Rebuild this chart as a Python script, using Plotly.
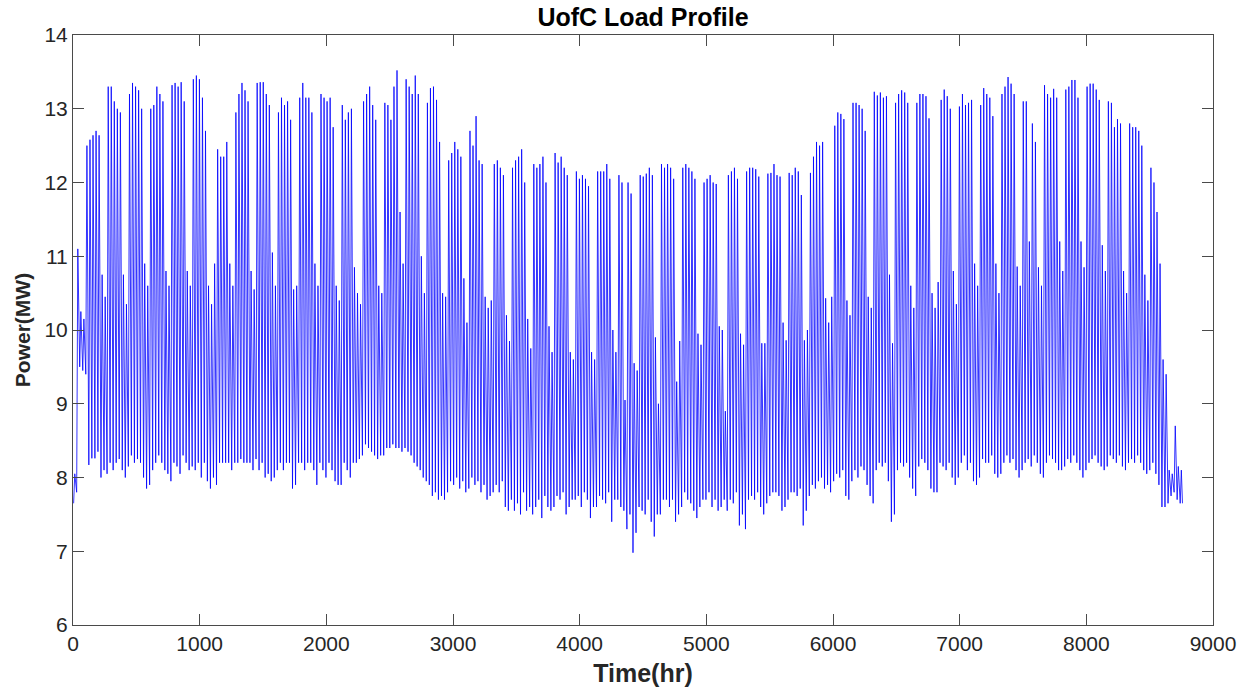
import plotly.graph_objects as go

# Hourly campus load summarised per day: overnight minimum and daytime peak (MW).
# Days 0-3 are the New Year break, then one row per Monday-Sunday week, then the last four days.
night_min_mw = [
    7.65, 7.8, 9.5, 9.45,
    9.4, 8.17, 8.26, 8.26, 8.35, 8.0, 8.1,
    8.05, 8.2, 8.1, 8.2, 8.25, 8.1, 8.0,
    8.15, 8.3, 8.2, 8.25, 8.2, 8.0, 7.85,
    7.9, 8.1, 8.2, 8.3, 8.2, 8.1, 8.05,
    7.95, 8.2, 8.15, 8.05, 8.3, 8.2, 8.1,
    8.15, 8.1, 8.2, 8.0, 8.2, 7.95, 7.85,
    8.0, 7.9, 8.2, 8.2, 8.2, 8.2, 8.1,
    8.2, 8.2, 8.25, 8.2, 8.2, 8.2, 8.1,
    8.25, 8.1, 8.2, 8.0, 8.05, 7.95, 8.0,
    8.1, 8.2, 8.1, 8.2, 8.2, 7.85, 7.9,
    8.2, 8.2, 8.1, 8.2, 8.2, 8.1, 7.9,
    8.2, 8.1, 8.0, 8.2, 8.1, 7.95, 7.9,
    7.9, 8.2, 8.1, 8.0, 8.2, 8.2, 8.25,
    8.3, 8.45, 8.4, 8.35, 8.3, 8.25, 8.3,
    8.3, 8.4, 8.4, 8.45, 8.4, 8.4, 8.35,
    8.4, 8.35, 8.3, 8.2, 8.15, 8.1, 8.0,
    7.95, 7.9, 7.75, 7.8, 7.7, 7.75, 7.7,
    7.8, 7.95, 7.9, 8.0, 7.85, 7.95, 7.8,
    7.85, 8.0, 7.9, 7.95, 7.8, 7.9, 7.7,
    7.75, 7.8, 7.9, 7.8, 7.95, 7.6, 7.55,
    7.7, 7.55, 7.65, 7.5, 7.8, 7.55, 7.6,
    7.5, 7.6, 7.7, 7.45, 7.75, 7.6, 7.55,
    7.6, 7.75, 7.7, 7.8, 7.5, 7.6, 7.7,
    7.7, 7.75, 7.6, 7.8, 7.7, 7.45, 7.6,
    7.6, 7.75, 7.7, 7.65, 7.8, 7.4, 7.7,
    7.7, 7.6, 7.55, 7.3, 7.5, 6.98, 7.25,
    7.6, 7.55, 7.5, 7.7, 7.4, 7.2, 7.5,
    7.5, 7.7, 7.7, 7.6, 7.7, 7.4, 7.5,
    7.6, 7.8, 7.7, 7.65, 7.55, 7.45, 7.6,
    7.7, 7.7, 7.8, 7.6, 7.7, 7.55, 7.6,
    7.7, 7.55, 7.7, 7.65, 7.8, 7.35, 7.5,
    7.3, 7.7, 7.75, 7.7, 7.8, 7.6, 7.5,
    7.65, 7.75, 7.8, 7.8, 7.75, 7.55, 7.6,
    7.7, 7.8, 7.8, 7.75, 7.85, 7.35, 7.55,
    7.75, 7.9, 7.85, 7.95, 8.0, 7.85, 7.9,
    7.8, 7.95, 8.05, 8.0, 8.1, 7.75, 7.7,
    7.95, 8.1, 8.0, 8.15, 8.1, 7.9, 7.75,
    7.65, 8.1, 8.2, 8.15, 8.2, 7.95, 7.4,
    7.5, 8.1, 8.2, 8.15, 8.2, 8.0, 7.85,
    7.75, 8.15, 8.25, 8.2, 8.1, 7.85, 7.8,
    7.8, 8.2, 8.15, 8.1, 8.2, 8.0, 7.9,
    8.0, 8.2, 8.3, 8.1, 8.2, 7.95, 7.9,
    8.0, 8.25, 8.2, 8.2, 8.3, 8.05, 8.0,
    8.05, 8.2, 8.3, 8.2, 8.25, 8.1, 8.0,
    8.1, 8.2, 8.25, 8.15, 8.3, 8.2, 8.05,
    8.0, 8.2, 8.3, 8.25, 8.2, 8.1, 8.1,
    8.15, 8.25, 8.2, 8.3, 8.2, 8.1, 8.0,
    8.1, 8.2, 8.25, 8.3, 8.2, 8.15, 8.1,
    8.15, 8.3, 8.25, 8.2, 8.3, 8.15, 8.1,
    8.2, 8.25, 8.2, 8.3, 8.2, 8.1, 8.05,
    8.1, 8.2, 8.05, 7.9, 7.6, 7.6, 7.65,
    7.75, 7.8, 7.7, 7.65,
]

day_peak_mw = [
    8.05, 11.1, 10.25, 10.15,
    12.5, 12.58, 12.64, 12.7, 12.64, 10.75, 10.45,
    13.3, 13.3, 13.1, 13.0, 12.95, 10.75, 10.35,
    13.2, 13.35, 13.3, 13.25, 13.0, 10.9, 10.6,
    13.0, 13.05, 13.3, 13.2, 13.1, 10.8, 10.6,
    13.32, 13.35, 13.3, 13.36, 13.1, 10.8, 10.6,
    13.4, 13.45, 13.4, 13.15, 12.7, 10.6, 10.35,
    10.9, 12.45, 12.35, 12.35, 12.55, 10.9, 10.6,
    12.95, 13.2, 13.35, 13.25, 13.1, 10.8, 10.55,
    13.35, 13.36, 13.36, 13.2, 13.05, 11.05, 10.6,
    12.95, 13.15, 13.05, 13.1, 12.85, 10.55, 10.6,
    13.15, 13.35, 13.15, 13.15, 12.95, 10.9, 10.6,
    13.2, 13.15, 13.1, 13.15, 12.75, 10.6, 10.4,
    13.05, 12.85, 12.95, 13.0, 10.85, 10.5, 10.35,
    13.1, 13.2, 13.3, 13.05, 12.85, 10.6, 10.5,
    13.08, 13.05, 12.85, 13.3, 13.52, 11.6, 10.9,
    13.4, 13.3, 13.2, 13.45, 13.2, 11.0, 10.5,
    13.08, 13.28, 13.3, 13.12, 12.55, 10.5, 10.45,
    12.3, 12.4, 12.55, 12.45, 12.35, 10.7, 10.1,
    12.7, 12.5, 12.9, 12.3, 12.25, 10.45, 10.3,
    10.4, 12.25, 12.3, 12.2, 12.1, 10.2, 9.85,
    12.2, 12.3, 12.35, 12.45, 12.0, 10.15, 9.75,
    12.25, 12.2, 12.25, 12.35, 12.0, 10.05, 9.7,
    12.4, 12.27, 12.35, 12.2, 12.1, 9.7, 9.6,
    12.15, 12.05, 12.1, 12.05, 11.95, 9.7, 9.6,
    12.15, 12.15, 12.15, 12.25, 12.05, 10.0, 9.7,
    12.1, 12.0, 9.05, 12.0, 11.85, 9.55, 9.45,
    12.1, 12.08, 12.12, 12.2, 12.1, 9.9, 9.0,
    12.25, 12.2, 12.25, 12.2, 12.05, 9.3, 9.85,
    12.2, 12.25, 12.2, 12.15, 12.05, 9.95, 9.8,
    12.0, 12.05, 12.1, 12.0, 11.98, 10.05, 10.0,
    8.9, 12.1, 12.15, 12.2, 12.05, 9.95, 9.8,
    12.15, 12.2, 12.2, 12.18, 12.08, 9.82, 9.82,
    12.12, 12.13, 12.25, 12.1, 12.08, 10.1, 9.86,
    12.13, 12.1, 12.2, 12.15, 11.83, 9.86, 10.0,
    12.13, 12.35, 12.55, 12.5, 12.55, 10.43, 10.1,
    10.45, 12.77, 12.95, 12.93, 12.86, 10.4, 10.2,
    13.08, 13.08, 13.05, 13.0, 12.7, 10.45, 10.3,
    13.23, 13.18, 13.22, 13.15, 13.17, 10.75, 9.82,
    13.08, 13.2, 13.25, 13.22, 13.08, 10.6, 10.3,
    13.08, 13.2, 13.2, 13.17, 12.87, 10.5, 10.3,
    10.65, 13.12, 13.26, 13.17, 13.0, 10.8, 10.35,
    13.03, 13.2, 13.05, 13.08, 13.12, 10.9, 10.6,
    13.05, 13.28, 13.2, 13.15, 12.9, 10.9, 10.5,
    13.2, 13.3, 13.43, 13.34, 13.2, 10.86, 10.6,
    13.1, 13.1, 11.2, 12.8, 12.55, 10.85, 10.6,
    13.32, 13.2, 13.15, 13.27, 13.15, 11.2, 10.8,
    13.26, 13.3, 13.39, 13.39, 13.15, 11.2, 10.85,
    13.3, 13.34, 13.34, 13.26, 13.12, 11.15, 10.8,
    13.1, 13.08, 12.75, 12.86, 12.8, 10.8, 10.5,
    12.8, 12.75, 12.75, 12.7, 12.5, 10.75, 10.4,
    12.2, 12.0, 11.6, 10.9, 9.6, 9.4, 8.1,
    8.05, 8.7, 8.15, 8.1,
]

# hour of day at which the overnight minimum and the daytime peak occur
min_hour_of_day = 5
peak_hour_of_day = 14
closing_hour = 8759
closing_mw = 7.65

x_tick_values = [0, 1000, 2000, 3000, 4000, 5000, 6000, 7000, 8000, 9000]
y_tick_values = [6, 7, 8, 9, 10, 11, 12, 13, 14]

# Interleave the daily minimum and peak into one time series
hours, load_mw = [], []
for day, (low, high) in enumerate(zip(night_min_mw, day_peak_mw)):
    hours += [24 * day + min_hour_of_day, 24 * day + peak_hour_of_day]
    load_mw += [low, high]
hours.append(closing_hour)
load_mw.append(closing_mw)

FONT = "Liberation Sans, Arial, Helvetica, sans-serif"
AXIS_COLOR = "#4a4a4a"

fig = go.Figure(
    go.Scatter(
        x=hours,
        y=load_mw,
        mode="lines",
        line=dict(color="#0000ff", width=0.8),
        hoverinfo="x+y",
    )
)

axis_common = dict(
    showgrid=False,
    zeroline=False,
    showline=True,
    linecolor=AXIS_COLOR,
    linewidth=1,
    mirror="ticks",
    ticks="inside",
    ticklen=11,
    tickwidth=1,
    tickcolor=AXIS_COLOR,
    automargin=False,
    tickfont=dict(family=FONT, size=21, color="#262626"),
)

fig.update_xaxes(
    range=[0, 9000],
    tickvals=x_tick_values,
    title=dict(text="<b>Time(hr)</b>", font=dict(family=FONT, size=25, color="#262626"), standoff=10),
    **axis_common,
)
fig.update_yaxes(
    range=[6, 14],
    tickvals=y_tick_values,
    title=dict(text="<b>Power(MW)</b>", font=dict(family=FONT, size=21, color="#262626"), standoff=8),
    **axis_common,
)

fig.update_layout(
    width=1247,
    height=693,
    margin=dict(l=73, r=34, t=35, b=68),
    paper_bgcolor="white",
    plot_bgcolor="white",
    showlegend=False,
    title=dict(
        text="<b>UofC Load Profile</b>",
        font=dict(family=FONT, size=25, color="#000000"),
        x=(73 + 1213) / 2 / 1247,
        xanchor="center",
        y=1 - 17 / 693,
        yanchor="middle",
        yref="container",
    ),
)

fig.write_html("out.html")
